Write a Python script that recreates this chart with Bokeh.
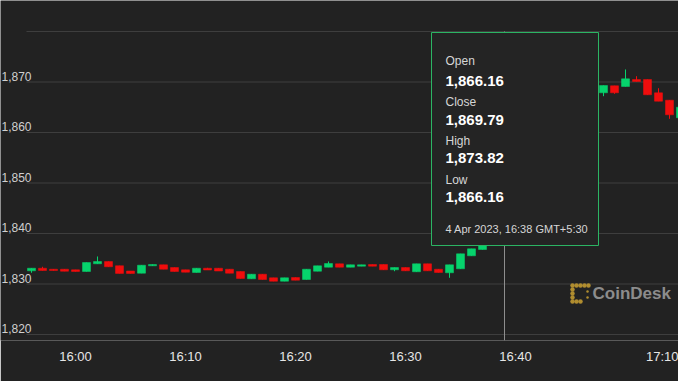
from bokeh.plotting import figure
from bokeh.models import Range1d, FixedTicker
from bokeh.embed import file_html
from bokeh.resources import INLINE
from bokeh.core.properties import value

# ---------------- data ----------------
opens = [1832.61, 1833.13, 1832.93, 1832.93, 1832.81, 1832.48, 1834.00, 1834.46, 1833.62, 1832.58,
         1832.14, 1833.60, 1833.80, 1833.27, 1832.81, 1832.28, 1833.13, 1833.13, 1832.93, 1832.48,
         1831.03, 1831.94, 1831.23, 1830.55, 1831.29, 1830.89, 1832.53, 1833.33, 1834.00, 1833.33,
         1833.53, 1833.86, 1833.86, 1832.81, 1833.27, 1832.42, 1834.00, 1832.93, 1832.22, 1833.01,
         1835.58, 1836.83, 1839.01, 1866.16, 1869.79, 1868.90, 1870.20, 1871.10, 1869.50, 1868.60,
         1869.30, 1868.80, 1867.86, 1869.25, 1869.11, 1870.50, 1870.50, 1867.86, 1866.40, 1862.91]
highs = [1833.13, 1833.41, 1832.93, 1832.93, 1832.81, 1834.26, 1835.45, 1834.46, 1833.62, 1832.58,
         1833.72, 1833.86, 1833.80, 1833.27, 1832.81, 1833.13, 1833.20, 1833.13, 1832.93, 1832.48,
         1831.94, 1831.94, 1831.23, 1831.23, 1831.29, 1832.93, 1833.60, 1834.46, 1834.00, 1833.80,
         1833.80, 1833.86, 1833.86, 1833.27, 1833.27, 1834.00, 1834.00, 1832.93, 1833.80, 1835.98,
         1836.97, 1839.10, 1867.50, 1873.82, 1871.50, 1870.80, 1871.90, 1871.60, 1870.70, 1869.90,
         1870.40, 1869.60, 1869.31, 1869.25, 1872.48, 1871.15, 1870.50, 1868.77, 1866.40, 1865.01]
lows = [1832.22, 1832.67, 1832.67, 1832.53, 1832.48, 1832.48, 1834.00, 1833.41, 1832.10, 1832.08,
        1832.14, 1833.60, 1832.93, 1832.48, 1832.34, 1832.28, 1832.77, 1832.57, 1832.14, 1831.09,
        1831.03, 1830.89, 1830.55, 1830.55, 1830.75, 1830.89, 1832.53, 1833.33, 1833.33, 1833.33,
        1833.53, 1833.53, 1832.81, 1832.53, 1832.61, 1832.42, 1832.61, 1832.28, 1831.23, 1833.01,
        1835.58, 1836.83, 1838.60, 1866.16, 1868.20, 1867.60, 1869.40, 1868.90, 1868.10, 1867.20,
        1868.30, 1867.90, 1867.19, 1867.66, 1869.11, 1870.10, 1867.47, 1866.20, 1862.71, 1862.91]
closes = [1833.13, 1832.67, 1832.67, 1832.53, 1832.48, 1834.26, 1834.46, 1833.41, 1832.10, 1832.08,
          1833.72, 1833.86, 1832.93, 1832.48, 1832.34, 1833.13, 1832.77, 1832.57, 1832.14, 1831.09,
          1831.94, 1830.89, 1830.55, 1831.23, 1830.75, 1832.93, 1833.60, 1834.06, 1833.33, 1833.80,
          1833.80, 1833.53, 1832.81, 1833.27, 1832.61, 1834.00, 1832.61, 1832.28, 1833.80, 1835.98,
          1836.97, 1839.01, 1866.16, 1869.79, 1868.90, 1870.20, 1871.10, 1869.50, 1868.60, 1869.30,
          1868.80, 1867.90, 1869.31, 1867.86, 1870.63, 1870.10, 1867.47, 1866.20, 1863.50, 1865.01]

tick_pos = [4, 14, 24, 34, 44, 57.4]
tick_labels = ["16:00", "16:10", "16:20", "16:30", "16:40", "17:10"]
y_levels = [1820, 1830, 1840, 1850, 1860, 1870, 1880]
y_labels = ["1,820", "1,830", "1,840", "1,850", "1,860", "1,870", ""]

hover_index = 43
hover_time = "4 Apr 2023, 16:38 GMT+5:30"

# ---------------- layout helpers ----------------
W, H = 678, 381
FRAME_H = 340
X0, X1 = -31 / 11, (W - 31) / 11
Y0, Y1 = 1820 - 6 / 5.05, 1820 + 334 / 5.05


def px_x(px):
    return X0 + px * (X1 - X0) / W


def px_y(py):
    return Y1 - py * (Y1 - Y0) / FRAME_H


BG = "#222222"
GREEN = "#06d36c"
RED = "#f00d0d"
FONT = value("Liberation Sans")

p = figure(width=W, height=H, x_range=Range1d(X0, X1), y_range=Range1d(Y0, Y1),
           output_backend="svg", toolbar_location=None, y_axis_location=None,
           min_border_left=0, min_border_right=0, min_border_top=0,
           min_border_bottom=H - FRAME_H,
           background_fill_color=BG, border_fill_color=BG, outline_line_color=None)
p.grid.visible = False

# x axis
ax = p.xaxis[0]
ax.ticker = FixedTicker(ticks=tick_pos)
ax.major_label_overrides = {t: l for t, l in zip(tick_pos, tick_labels)}
ax.axis_line_color = None
ax.major_tick_line_color = None
ax.minor_tick_line_color = None
ax.major_label_standoff = 2
ax.major_label_text_font = "Liberation Sans"
ax.major_label_text_font_size = "13px"
ax.major_label_text_color = "#e6e6e6"

# grid lines
p.segment(x0=[px_x(26)] * len(y_levels), y0=y_levels, x1=[X1] * len(y_levels), y1=y_levels,
          line_color="#3e3e3e", line_width=1)

# y labels (sit just above their grid line)
p.text(x=[px_x(1)] * len(y_levels), y=y_levels, text=y_labels, y_offset=-6,
       text_align="left", text_baseline="middle", text_font=FONT,
       text_font_size="12px", text_color="#d0d0d0")

# candles
idx = list(range(len(opens)))
colors = [GREEN if c >= o else RED for o, c in zip(opens, closes)]
tops = [max(o, c) for o, c in zip(opens, closes)]
bots = [min(o, c) for o, c in zip(opens, closes)]
p.segment(x0=idx, y0=highs, x1=idx, y1=lows, line_color=colors, line_width=1)
p.vbar(x=idx, top=tops, bottom=bots, width=8 / 11, fill_color=colors, line_color=colors, line_width=0.5)

# crosshair
p.segment(x0=[hover_index], y0=[1880], x1=[hover_index], y1=[Y0], line_color="#8e8e8e", line_width=1)

# watermark
dots_x = [572, 576, 580, 584, 588, 572, 572, 572, 572, 576, 580]
dots_y = [285, 285, 285, 285, 285, 289, 293, 297, 301, 301, 301]
p.scatter(x=[px_x(v) for v in dots_x], y=[px_y(v) for v in dots_y], size=4.5,
          fill_color="#b08d2f", line_color=None)
p.scatter(x=[px_x(587), px_x(587)], y=[px_y(291), px_y(297)], size=2.5,
          fill_color="#b08d2f", line_color=None)
p.text(x=[px_x(592)], y=[px_y(293)], text=["CoinDesk"], text_align="left",
       text_baseline="middle", text_font=FONT, text_font_size="17px",
       text_font_style="bold", text_color="#8c8c8c")

# tooltip
p.quad(left=[px_x(431)], right=[px_x(598)], top=[px_y(32)], bottom=[px_y(245)],
       fill_color="#242424", line_color="#2bb463", line_width=1)
names = ["Open", "Close", "High", "Low"]
vals = [opens[hover_index], closes[hover_index], highs[hover_index], lows[hover_index]]
name_base = [60.7, 101.7, 140.5, 179.3]
val_base = [80, 119.3, 157.7, 196.7]
p.text(x=[px_x(445)] * 4, y=[px_y(v) for v in name_base], text=names,
       text_align="left", text_baseline="alphabetic", text_font=FONT,
       text_font_size="12px", text_color="#d6d6d6")
p.text(x=[px_x(445)] * 4, y=[px_y(v) for v in val_base], text=[f"{v:,.2f}" for v in vals],
       text_align="left", text_baseline="alphabetic", text_font=FONT,
       text_font_size="15px", text_font_style="bold", text_color="#ffffff")
p.text(x=[px_x(445)], y=[px_y(228.5)], text=[hover_time],
       text_align="left", text_baseline="alphabetic", text_font=FONT,
       text_font_size="11px", text_color="#d6d6d6")

# credit
p.text(x=[px_x(675)], y=[px_y(362)], text=["Highcharts.com"], text_align="right",
       text_baseline="middle", text_font=FONT, text_font_size="9px", text_color="#9a9a9a")

open("out.html", "w").write(file_html(p, INLINE))
